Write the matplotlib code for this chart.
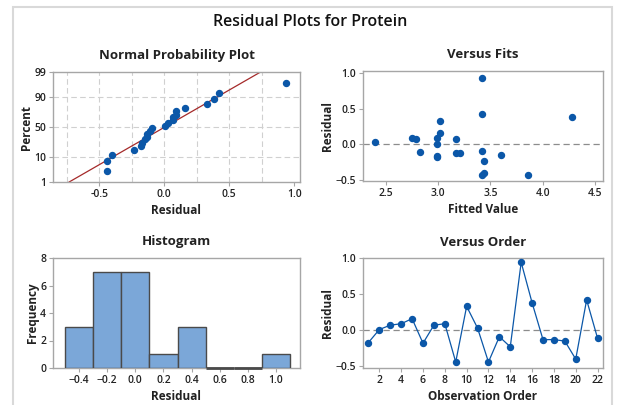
import numpy as np
import matplotlib.pyplot as plt
from matplotlib.patches import Rectangle
from statistics import NormalDist

plt.rcParams['font.family'] = ['Open Sans', 'DejaVu Sans']

# residuos na ordem de observacao
resid = [-0.17, 0.01, 0.07, 0.09, 0.16, -0.18, 0.07, 0.09, -0.44, 0.33, 0.03,
         -0.44, -0.09, -0.23, 0.94, 0.38, -0.13, -0.13, -0.15, -0.40, 0.42, -0.11]
# valores ajustados
fitted = [2.99, 2.99, 2.79, 2.75, 3.02, 2.99, 3.17, 2.99, 3.42, 3.02, 2.40,
          3.86, 3.42, 3.44, 3.42, 4.28, 3.17, 3.21, 3.60, 3.44, 3.42, 2.83]
order = list(range(1, len(resid) + 1))

pct_ticks = [1, 10, 50, 90, 99]
npp_xgrid = [-0.75, -0.5, -0.25, 0.0, 0.25, 0.5, 0.75]
hist_bins = np.linspace(-0.5, 1.1, 9)

blue = '#0B57A8'
red = '#A52A2A'
spine_c = '#A6A6A6'
txt_c = '#222222'

nd = NormalDist()
W, H = 618, 405
fig = plt.figure(figsize=(6.18, 4.05), dpi=100)

# moldura cinza da janela
fig.patches.append(Rectangle((13 / W, -0.1), 599 / W, 1.1 - 7 / H, transform=fig.transFigure,
                             fill=False, ec='#D9D9D9', lw=1.5))


def eixo(x0, y0, x1, y1):
    return fig.add_axes([x0 / W, 1 - y1 / H, (x1 - x0) / W, (y1 - y0) / H])


def estilo(ax, title, xlabel, ylabel):
    for s in ax.spines.values():
        s.set_color(spine_c)
        s.set_linewidth(1.0)
    ax.tick_params(length=3, width=0.8, color=spine_c, labelsize=7.5, labelcolor=txt_c, pad=2)
    for lb in ax.get_xticklabels() + ax.get_yticklabels():
        lb.set_fontweight('semibold')
    ax.set_title(title, fontsize=9.5, fontweight='bold', color=txt_c, pad=9)
    ax.set_xlabel(xlabel, fontsize=8.5, fontweight='bold', color=txt_c, labelpad=3)
    ax.set_ylabel(ylabel, fontsize=8.5, fontweight='bold', color=txt_c, labelpad=1)


fig.text(310 / W, 1 - 22 / H, 'Residual Plots for Protein', ha='center', va='center',
         fontsize=11.5, fontweight='semibold', color='#111111')

# Grafico de probabilidade normal
ax1 = eixo(53, 72, 300, 182)
r = np.sort(resid)
n = len(r)
p = [(i - 0.3) / (n + 0.4) for i in range(1, n + 1)]
z = [nd.inv_cdf(pi) for pi in p]
mu, sd = np.mean(resid), np.std(resid, ddof=1)
zlo, zhi = nd.inv_cdf(0.01), nd.inv_cdf(0.99)
for g in npp_xgrid:
    ax1.axvline(g, color='#D0D0D0', ls=(0, (5, 3)), lw=0.8, zorder=0)
for t in [10, 50, 90]:
    ax1.axhline(nd.inv_cdf(t / 100), color='#D0D0D0', ls=(0, (5, 3)), lw=0.8, zorder=0)
ax1.plot([mu + zlo * sd, mu + zhi * sd], [zlo, zhi], color=red, lw=0.9, zorder=2)
ax1.plot(r, z, 'o', color=blue, ms=4.3, zorder=3)
ax1.set_xlim(-0.855, 1.045)
ax1.set_ylim(zlo, zhi)
ax1.set_yticks([nd.inv_cdf(t / 100) for t in pct_ticks])
ax1.set_yticklabels([str(t) for t in pct_ticks])
ax1.set_xticks([-0.5, 0.0, 0.5, 1.0])
ax1.set_xticklabels(['-0.5', '0.0', '0.5', '1.0'])
estilo(ax1, 'Normal Probability Plot', 'Residual', 'Percent')

# Versus Fits
ax2 = eixo(363, 71, 603, 181)
ax2.axhline(0, color='#8C8C8C', ls=(0, (5, 3)), lw=0.9, zorder=1)
ax2.plot(fitted, resid, 'o', color=blue, ms=4.3, zorder=3)
ax2.set_xlim(2.285, 4.575)
ax2.set_ylim(-0.519, 1.033)
ax2.set_xticks([2.5, 3.0, 3.5, 4.0, 4.5])
ax2.set_yticks([-0.5, 0.0, 0.5, 1.0])
estilo(ax2, 'Versus Fits', 'Fitted Value', 'Residual')

# Histograma
ax3 = eixo(53, 258, 300, 368)
cont, bordas, _ = ax3.hist(resid, bins=hist_bins, color='#7BA7D8', edgecolor='#4A4A4A',
                           linewidth=1.0, zorder=3)
# classes vazias aparecem como traco escuro na base
for i, c in enumerate(cont):
    if c == 0:
        ax3.hlines(0, bordas[i], bordas[i + 1], color='#4A4A4A', lw=2, zorder=4, clip_on=False)
ax3.set_xlim(-0.585, 1.17)
ax3.set_ylim(0, 8)
ax3.set_xticks([-0.4, -0.2, 0.0, 0.2, 0.4, 0.6, 0.8, 1.0])
ax3.set_yticks([0, 2, 4, 6, 8])
estilo(ax3, 'Histogram', 'Residual', 'Frequency')

# Versus Order
ax4 = eixo(363, 258, 603, 368)
ax4.axhline(0, color='#8C8C8C', ls=(0, (5, 3)), lw=0.9, zorder=1)
ax4.plot(order, resid, '-o', color=blue, ms=4.3, lw=0.9, zorder=3)
ax4.set_xlim(0.5, 22.5)
ax4.set_ylim(-0.523, 1.0)
ax4.set_xticks(range(2, 23, 2))
ax4.set_yticks([-0.5, 0.0, 0.5, 1.0])
estilo(ax4, 'Versus Order', 'Observation Order', 'Residual')

fig.savefig('out.png', dpi=100)
